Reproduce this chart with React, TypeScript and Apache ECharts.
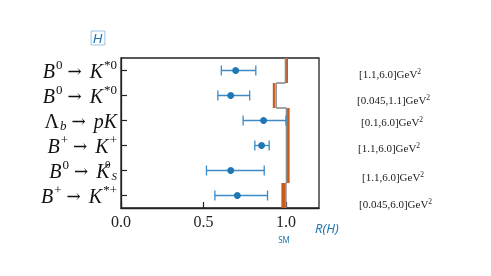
import React, { useEffect, useRef } from "react";
import * as echarts from "echarts";

const categories = [
  "B0→K*0 [1.1,6.0]",
  "B0→K*0 [0.045,1.1]",
  "Λb→pK [0.1,6.0]",
  "B+→K+ [1.1,6.0]",
  "B0→KS0 [1.1,6.0]",
  "B+→K*+ [0.045,6.0]",
];
const categoryRich = [
  "{i|B}{sup|0}{a|→}{i|K}{sup|*0}",
  "{i|B}{sup|0}{a|→}{i|K}{sup|*0}",
  "{n|Λ}{sub|b}{a|→}{i|pK}",
  "{i|B}{sup|+}{a|→}{i|K}{sup|+}",
  "{i|B}{sup|0}{a|→}{i|K}{supz|0}{subS|S}",
  "{i|B}{sup|+}{a|→}{i|K}{sup|*+}",
];
const q2Ranges = ["[1.1,6.0]", "[0.045,1.1]", "[0.1,6.0]", "[1.1,6.0]", "[1.1,6.0]", "[0.045,6.0]"];
const centralValues = [0.695, 0.665, 0.864, 0.852, 0.665, 0.705];
const lowerValues = [0.608, 0.587, 0.74, 0.811, 0.518, 0.569];
const upperValues = [0.817, 0.78, 1.0, 0.898, 0.868, 0.888];
const smCentral = [0.997, 0.94, 1.003, 1.003, 1.003, 0.999];
const smBandLow = [0.999, 0.92, 1.006, 1.006, 1.006, 0.972];
const smBandHigh = [1.012, 0.933, 1.022, 1.022, 1.022, 0.994];
const xMin = 0;
const xMax = 1.2;
const xInterval = 0.5;

// layout for the side labels (not data)
const rangeLabelX = [359, 357, 361, 358, 362, 359];
const rangeLabelY = [74, 100, 122, 148, 177, 204];

const BLUE = "#1f77b4";
const ERR_BLUE = "#3d8bc6";
const ORANGE = "#c95b1f";
const GRAY = "#8c8c8c";
const SERIF = "Liberation Serif";

export default function App() {
  const ref = useRef<HTMLDivElement>(null);
  useEffect(() => {
    if (!ref.current) return;
    const chart = echarts.init(ref.current, undefined, { renderer: "svg" });

    const ink = "#111";
    const mainRich = {
      i: { fontFamily: SERIF, fontStyle: "italic", fontSize: 20, lineHeight: 24, color: ink },
      n: { fontFamily: SERIF, fontSize: 20, lineHeight: 24, color: ink },
      a: { fontFamily: "DejaVu Serif", fontSize: 17, lineHeight: 24, color: ink, padding: [0, 8, 0, 5] },
      sup: { fontFamily: SERIF, fontSize: 13, lineHeight: 11, padding: [0, 0, 13, 1], color: ink },
      supz: { fontFamily: SERIF, fontSize: 11, lineHeight: 10, padding: [0, 0, 14, 1], width: 0, color: ink },
      sub: { fontFamily: SERIF, fontStyle: "italic", fontSize: 13, lineHeight: 11, padding: [9, 0, 0, 1], color: ink },
      subS: { fontFamily: SERIF, fontStyle: "italic", fontSize: 11, lineHeight: 10, padding: [10, 0, 0, 1], color: ink },
    };

    const errData = categories.map((_, i) => [lowerValues[i], upperValues[i], i]);
    const pointData = categories.map((_, i) => [centralValues[i], i]);
    const smLineData = categories.map((_, i) => [smCentral[i], i, i + 1 < smCentral.length ? smCentral[i + 1] : smCentral[i]]);
    const smBandData = categories.map((_, i) => [smBandLow[i], smBandHigh[i], i]);

    const option: any = {
      animation: false,
      grid: { left: 121, top: 58, width: 198, height: 150, show: true, borderColor: "#222", borderWidth: 1.3, backgroundColor: "transparent" },
      xAxis: {
        type: "value",
        min: xMin,
        max: xMax,
        interval: xInterval,
        splitLine: { show: false },
        axisLine: { show: true, lineStyle: { color: "#222", width: 1.3 } },
        axisTick: { show: true, inside: true, length: 6, lineStyle: { color: "#222", width: 1.2 } },
        axisLabel: {
          fontFamily: SERIF,
          fontSize: 16,
          color: "#222",
          margin: 5,
          showMaxLabel: false,
          formatter: (v: number) => (Math.abs(v / xInterval - Math.round(v / xInterval)) < 1e-6 ? v.toFixed(1) : ""),
        },
      },
      yAxis: {
        type: "category",
        data: categories,
        inverse: true,
        axisLine: { show: true, lineStyle: { color: "#222", width: 1.3 } },
        axisTick: { show: true, inside: true, length: 6, alignWithLabel: true, interval: 0, lineStyle: { color: "#222", width: 1.2 } },
        splitLine: { show: false },
        axisLabel: {
          margin: 4,
          interval: 0,
          hideOverlap: false,
          formatter: (_: string, idx: number) => categoryRich[idx],
          rich: mainRich,
        },
      },
      series: [
        {
          type: "custom",
          name: "SM band",
          data: smBandData,
          encode: { x: [0, 1], y: 2 },
          z: 2,
          renderItem: (params: any, api: any) => {
            const a = api.coord([api.value(0), api.value(2)]);
            const b = api.coord([api.value(1), api.value(2)]);
            const h = api.size([0, 1])[1];
            return {
              type: "rect",
              shape: { x: a[0], y: a[1] - h / 2, width: b[0] - a[0], height: h },
              style: { fill: ORANGE },
            };
          },
        },
        {
          type: "custom",
          name: "SM",
          data: smLineData,
          encode: { x: [0, 2], y: 1 },
          z: 3,
          renderItem: (params: any, api: any) => {
            const p = api.coord([api.value(0), api.value(1)]);
            const q = api.coord([api.value(2), api.value(1)]);
            const h = api.size([0, 1])[1];
            const ls = { stroke: GRAY, lineWidth: 1.6 };
            return {
              type: "group",
              children: [
                { type: "line", shape: { x1: p[0], y1: p[1] - h / 2, x2: p[0], y2: p[1] + h / 2 }, style: ls },
                { type: "line", shape: { x1: p[0], y1: p[1] + h / 2, x2: q[0], y2: p[1] + h / 2 }, style: ls },
              ],
            };
          },
        },
        {
          type: "custom",
          name: "errors",
          data: errData,
          encode: { x: [0, 1], y: 2 },
          z: 4,
          renderItem: (params: any, api: any) => {
            const a = api.coord([api.value(0), api.value(2)]);
            const b = api.coord([api.value(1), api.value(2)]);
            const c = 5;
            const ls = { stroke: ERR_BLUE, lineWidth: 1.3 };
            return {
              type: "group",
              children: [
                { type: "line", shape: { x1: a[0], y1: a[1], x2: b[0], y2: b[1] }, style: ls },
                { type: "line", shape: { x1: a[0], y1: a[1] - c, x2: a[0], y2: a[1] + c }, style: ls },
                { type: "line", shape: { x1: b[0], y1: b[1] - c, x2: b[0], y2: b[1] + c }, style: ls },
              ],
            };
          },
        },
        {
          type: "scatter",
          name: "data",
          data: pointData,
          symbolSize: 7,
          z: 5,
          itemStyle: { color: BLUE, opacity: 1 },
        },
      ],
      graphic: [
        {
          type: "text",
          x: 98,
          y: 38,
          style: {
            text: "H",
            fontFamily: "DejaVu Sans",
            fontStyle: "italic",
            fontSize: 13,
            fill: BLUE,
            align: "center",
            verticalAlign: "middle",
            borderColor: "#9cc3e4",
            borderWidth: 1,
            padding: [1, 2, 0, 2],
          },
        },
        {
          type: "text",
          x: 315,
          y: 228,
          style: {
            text: "R(H)",
            fontFamily: "Noto Sans",
            fontStyle: "italic",
            fontSize: 13,
            fill: BLUE,
            align: "left",
            verticalAlign: "middle",
          },
        },
        {
          type: "text",
          x: 284,
          y: 239,
          style: {
            text: "SM",
            fontFamily: "Noto Sans",
            fontSize: 8,
            fill: BLUE,
            align: "center",
            verticalAlign: "middle",
          },
        },
        ...q2Ranges.map((r, i) => ({
          type: "text",
          x: rangeLabelX[i],
          y: rangeLabelY[i],
          style: {
            text: `{n|${r}GeV}{s|2}`,
            align: "left",
            verticalAlign: "middle",
            rich: {
              n: { fontFamily: SERIF, fontSize: 11, lineHeight: 14, fill: "#222", color: "#222" },
              s: { fontFamily: SERIF, fontSize: 7.5, lineHeight: 8, padding: [0, 0, 6, 0], fill: "#222", color: "#222" },
            },
          },
        })),
      ],
    };
    chart.setOption(option);
    return () => chart.dispose();
  }, []);
  return <div ref={ref} style={{ position: "fixed", left: 0, top: 0, width: 491, height: 276 }} />;
}
